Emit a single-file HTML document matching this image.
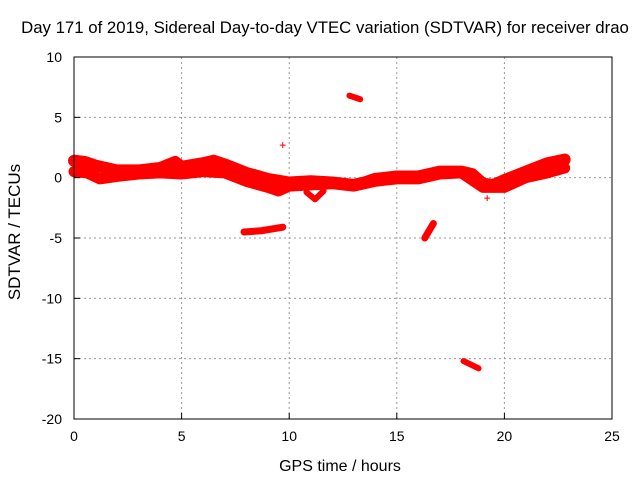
<!DOCTYPE html>
<html><head><meta charset="utf-8"><style>
body{margin:0;background:#fff}
svg text{font-family:"Liberation Sans",sans-serif;font-size:14px;fill:#000}
</style></head><body>
<svg id="chart" width="640" height="480" viewBox="0 0 640 480" xmlns="http://www.w3.org/2000/svg">
<rect width="640" height="480" fill="#fff"/>
<text x="325" y="33" text-anchor="middle" style="font-size:16.8px">Day 171 of 2019, Sidereal Day-to-day VTEC variation (SDTVAR) for receiver drao</text>
<g id="grid"></g>
<g id="data"></g>
<rect x="74" y="57" width="538" height="362" fill="none" stroke="#000" stroke-width="1"/>
<g id="ticks"></g>
<text x="340" y="471" text-anchor="middle" style="font-size:16px">GPS time / hours</text>
<text transform="translate(20,232) rotate(-90)" text-anchor="middle" style="font-size:17px">SDTVAR / TECUs</text>
</svg>
<script>
const xTicks=[0,5,10,15,20,25];
const yTicks=[-20,-15,-10,-5,0,5,10];
const trackAHours=[0,0.5,1,2,3,4,4.7,5,6,6.5,7,8,9,10,11,12,13,13.5,14,15,16,17,18,18.5,19,19.5,20,21,22,22.8];
const trackAValues=[1.4,1.3,1.0,0.6,0.6,0.8,1.3,0.9,1.2,1.4,1.1,0.4,-0.1,-0.4,-0.3,-0.4,-0.6,-0.4,-0.1,0.1,0.1,0.5,0.5,0.3,-0.5,-0.6,-0.2,0.5,1.2,1.5];
const trackBHours=[0,0.6,1.2,2,3,4,5,6,7,8,9,9.5,10,11,12,13,14,15,16,17,18,19,20,21,22,22.8];
const trackBValues=[0.5,0.4,-0.1,0.1,0.3,0.4,0.3,0.5,0.4,-0.3,-0.8,-1.1,-0.7,-0.6,-0.5,-0.7,-0.3,-0.1,-0.1,0.3,0.4,-0.8,-0.8,0.0,0.4,0.8];
const dip1Hours=[10.8,11.2,11.6];const dip1Values=[-1.2,-1.8,-1.1];
const seg1Hours=[7.9,8.7,9.7];const seg1Values=[-4.5,-4.4,-4.1];
const seg2Hours=[12.8,13.3];const seg2Values=[6.8,6.5];
const seg3Hours=[16.3,16.7];const seg3Values=[-5.0,-3.8];
const seg4Hours=[18.1,18.8];const seg4Values=[-15.2,-15.8];
const pointHours=[9.7,19.2];const pointValues=[2.7,-1.7];
const NS="http://www.w3.org/2000/svg";
const X=h=>74+h*538/25, Y=v=>57+(10-v)*362/30;
const grid=document.getElementById('grid'),ticks=document.getElementById('ticks'),data=document.getElementById('data');
function mk(t,a,p){const e=document.createElementNS(NS,t);for(const k in a)e.setAttribute(k,a[k]);p.appendChild(e);return e;}
xTicks.forEach(t=>{const x=X(t);
 if(t>0&&t<25){const l=mk('line',{x1:x,y1:57,x2:x,y2:419,stroke:'#999','stroke-dasharray':'2,3'},grid);
 
 }
 const tk=mk('line',{x1:x,y1:419,x2:x,y2:413,stroke:'#000'},ticks);
 
 
 const tx=mk('text',{x:x,y:441,'text-anchor':'middle'},ticks);tx.textContent=t;
 
 });
yTicks.forEach(t=>{const y=Y(t);
 if(t>-20&&t<10){const l=mk('line',{x1:74,y1:y,x2:612,y2:y,stroke:'#999','stroke-dasharray':'2,3'},grid);
 
 }
 const tk=mk('line',{x1:74,y1:y,x2:80,y2:y,stroke:'#000'},ticks);
 
 
 const tx=mk('text',{x:62,y:y+5,'text-anchor':'end'},ticks);tx.textContent=t;
 
 });
function track(hs,vs,w,name){const pts=hs.map((h,i)=>X(h)+','+Y(vs[i])).join(' ');
 const p=mk('polyline',{points:pts,fill:'none',stroke:'#f00','stroke-width':w,'stroke-linejoin':'round','stroke-linecap':'round'},data);
 
 }
track(trackAHours,trackAValues,12,'track-upper');
track(trackBHours,trackBValues,11,'track-lower');
track(dip1Hours,dip1Values,6,'dip-11h');
track(seg1Hours,seg1Values,7,'segment-8h');
track(seg2Hours,seg2Values,6,'segment-13h');
track(seg3Hours,seg3Values,7,'segment-16h');
track(seg4Hours,seg4Values,6,'segment-18h');
pointHours.forEach((h,i)=>{const x=X(h),y=Y(pointValues[i]);
 const p=mk('path',{d:`M${x-3},${y}H${x+3}M${x},${y-3}V${y+3}`,stroke:'#f00','stroke-width':1},data);
 
 });
</script>
</body></html>
